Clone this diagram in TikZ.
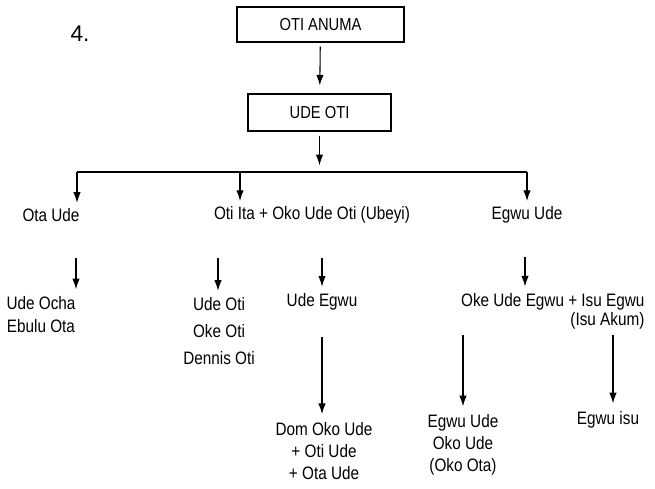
\documentclass[tikz,border=0pt]{standalone}
\usepackage{fontspec}
\setmainfont{Liberation Sans}
\newfontfamily\narrowsf{Liberation Sans}[FakeStretch=0.85]
\usetikzlibrary{arrows.meta}

\tikzset{
  arr/.style={-{Latex[length=8pt,width=5.5pt]}, line width=0.8pt},
  titlebox/.style={draw, line width=0.8pt, inner sep=0pt,
    font=\narrowsf\fontsize{13pt}{15pt}\selectfont},
  lbl/.style={inner sep=1pt, align=center,
    font=\narrowsf\fontsize{13.5pt}{17.5pt}\selectfont},
}

\begin{document}
\begin{tikzpicture}[x=0.75pt, y=-0.75pt]
\useasboundingbox (0,0) rectangle (655,488);

% Kopf
\node[font=\fontsize{17pt}{19pt}\selectfont] (num) at (80,34) {4.};
\node[titlebox, minimum width=125.25pt, minimum height=26.25pt] (anuma) at (320.5,24.5) {OTI ANUMA};
\node[titlebox, minimum width=107.25pt, minimum height=27.75pt] (udeoti) at (319.5,112.5) {UDE OTI};
\draw[arr, shorten <=3pt, shorten >=6pt] (anuma) -- (udeoti);

% Verzweigung
\coordinate (barL) at (77,172);
\coordinate (barM) at (240,172);
\coordinate (barR) at (527,172);
\draw[arr, shorten <=3pt, shorten >=5pt] (udeoti) -- (udeoti |- barL);
\draw[line width=0.8pt] (barL) -- (barR);

% erste Reihe
\node[lbl] (otaude) at (51,215) {Ota Ude};
\node[lbl] (otiita) at (312,215) {Oti Ita + Oko Ude Oti (Ubeyi)};
\node[lbl] (egwuude) at (527,215) {Egwu Ude};
\draw[arr, shorten >=3pt] (barL) -- (barL |- otaude.north);
\draw[arr, shorten >=3pt] (barM) -- (barM |- otiita.north);
\draw[arr, shorten >=3pt] (barR) -- (egwuude.north);

% zweite Reihe
\node[lbl] (udeocha) at (41,314.5) {Ude Ocha\\Ebulu Ota};
\node[lbl] (udeotis) at (219,331) {Ude Oti\\[2.5pt]Oke Oti\\[2.5pt]Dennis Oti};
\node[lbl] (udeegwu) at (322,302) {Ude Egwu};
\node[lbl, align=right, anchor=east] (okeude) at (646,311.5) {Oke Ude Egwu + Isu Egwu\\[-3pt](Isu Akum)};

\coordinate (c1) at (76,258);
\coordinate (c2) at (218,258);
\coordinate (c3) at (322,258);
\coordinate (c4) at (525,257);
\draw[arr, shorten >=4pt] (c1) -- (c1 |- udeocha.north);
\draw[arr, shorten >=4pt] (c2) -- (c2 |- udeotis.north);
\draw[arr, shorten >=4pt] (c3) -- (c3 |- udeegwu.north);
\draw[arr, shorten >=4pt] (c4) -- (c4 |- okeude.north);

% dritte Reihe
\node[lbl] (domoko) at (324,451) {Dom Oko Ude\\[-1pt]+ Oti Ude\\[-1pt]+ Ota Ude};
\node[lbl] (egwuoko) at (463,445) {Egwu Ude\\[-1pt]Oko Ude\\[-1pt](Oko Ota)};
\node[lbl] (egwuisu) at (608,420) {Egwu isu};

\coordinate (c5) at (322,337);
\coordinate (c6) at (463,335);
\coordinate (c7) at (613,335);
\draw[arr, shorten >=5pt] (c5) -- (c5 |- domoko.north);
\draw[arr, shorten >=5pt] (c6) -- (c6 |- egwuoko.north);
\draw[arr, shorten >=5pt] (c7) -- (c7 |- egwuisu.north);
\end{tikzpicture}
\end{document}
